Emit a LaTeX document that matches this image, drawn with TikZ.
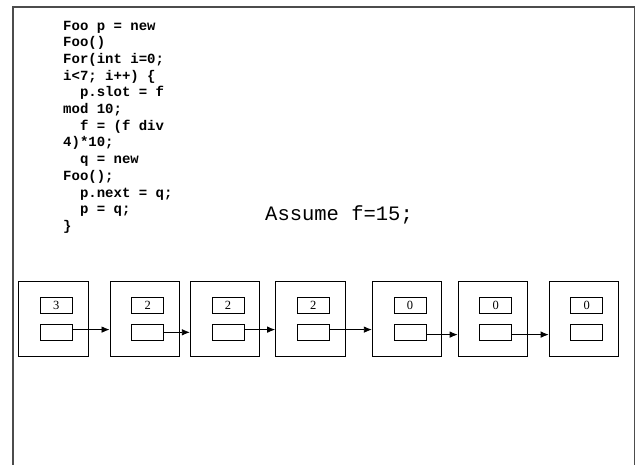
\documentclass[tikz,border=0pt]{standalone}
\usepackage{fontspec}
\setmainfont{Liberation Serif}
\setmonofont{Liberation Mono}
\usetikzlibrary{arrows.meta}
\begin{document}
\begin{tikzpicture}[x=1pt,y=-1pt,
  frame/.style={draw=black!70,line width=1.6pt},
  cell/.style={draw,line width=0.8pt,minimum width=69.5pt,minimum height=75pt,inner sep=0pt},
  slot/.style={draw,line width=0.8pt,minimum width=32pt,minimum height=16pt,inner sep=0pt,
    font=\fontsize{12.5}{14}\selectfont},
  link/.style={line width=0.8pt,-{Latex[length=8pt,width=6.5pt]}},
  code/.style={align=left,inner sep=0pt,anchor=base west,
    font=\fontsize{14}{16.7}\selectfont\ttfamily\bfseries},
  note/.style={inner sep=0pt,anchor=base west,font=\fontsize{20.5}{24}\selectfont\ttfamily}]
\useasboundingbox (0,0) rectangle (636,464);
% page frame, open at the bottom
\draw[frame] (13,470) -- (13,7) -- (634.6,7) -- (634.6,470);

% program text (anchored on the baseline of its last line)
\node[code] (prog) at (63,230.4) {Foo~p~=~new\\
Foo()\\
For(int~i=0;\\
i<7;~i++)~\{\\
~~p.slot~=~f\\
mod~10;\\
~~f~=~(f~div\\
4)*10;\\
~~q~=~new\\
Foo();\\
~~p.next~=~q;\\
~~p~=~q;\\
\}};
\node[note] (assume) at (265,220) {Assume f=15;};

% list cells
\foreach \i/\cx/\v in {1/53.3/3,2/144.7/2,3/225/2,4/310.3/2,5/407/0,6/492.8/0,7/583.8/0}{
  \node[cell] (c\i) at (\cx,319.2) {};
  \node[slot] (v\i) at (\cx+3,305.3) {\v};
  \node[slot] (n\i) at (\cx+3,332.3) {};
}

% next pointers
\draw[link] ([yshift=2.7pt]n1.east) -- ([yshift=2.7pt]n1.east -| c2.west);
\draw[link] (n2.east) -- (n2.east -| c3.west);
\draw[link] ([yshift=2.7pt]n3.east) -- ([yshift=2.7pt]n3.east -| c4.west);
\draw[link] ([yshift=2.7pt]n4.east) -- ([yshift=2.7pt]n4.east -| c5.west);
\draw[link] ([yshift=-2.3pt]n5.east) -- ([yshift=-2.3pt]n5.east -| c6.west);
\draw[link] ([yshift=-2.3pt]n6.east) -- ([yshift=-2.3pt]n6.east -| c7.west);
\end{tikzpicture}
\end{document}
